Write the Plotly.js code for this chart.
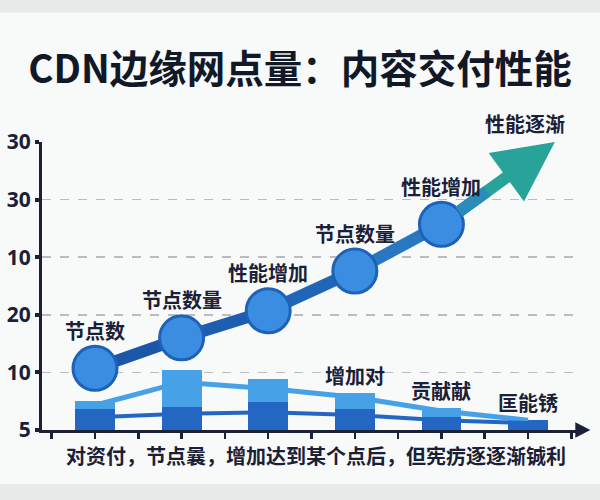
<!DOCTYPE html>
<html>
<head>
<meta charset="utf-8">
<script src="https://cdn.plot.ly/plotly-3.0.1.min.js"></script>
<style>html,body{margin:0;padding:0;background:#f8f9f9;}#chart{width:600px;height:500px;}</style>
</head>
<body>
<div id="chart"></div>
<script>
// ---- data ----
const stageX = [0, 1, 2, 3, 4, 5];
const trendX = [0, 1, 2, 3, 4];
const trendY = [1.07, 1.60, 2.07, 2.76, 3.57];
const trendLabels = ['节点数', '节点数量', '性能增加', '节点数量', '性能增加'];
const arrowTipX = 5.31;
const arrowTipY = 5.0;
const arrowLabel = '性能逐渐';
const barDark = [0.36, 0.40, 0.48, 0.36, 0.22, 0.17];
const barLight = [0.14, 0.65, 0.40, 0.28, 0.16, 0.0];
const lightLine = [0.43, 0.83, 0.72, 0.57, 0.33, 0.17];
const darkLine = [0.22, 0.28, 0.31, 0.26, 0.17, 0.12];
const barLabels = ['', '', '', '增加对', '贡献献', '匡能锈'];
const yTickVals = [0, 1, 2, 3, 4, 5];
const yTickText = ['5', '10', '20', '10', '30', '30'];
const titleText = 'CDN边缘网点量：内容交付性能';
const xTitleText = '对资付，节点曩，增加达到某个点后，但宪疠逐逐渐铖利';

// ---- styles ----
const CJK = '"Noto Sans CJK SC", "Noto Sans", sans-serif';
const INK = '#1a2036';
const segColors = ['#1b56a9', '#1d5eb1', '#2066b8', '#2877c0'];

const traces = [];
traces.push({type: 'bar', x: stageX, y: barDark, width: 0.46, marker: {color: '#2467c3'}, hoverinfo: 'skip'});
traces.push({type: 'bar', x: stageX, y: barLight, width: 0.46, marker: {color: '#47a1e7'}, hoverinfo: 'skip'});
traces.push({type: 'scatter', mode: 'lines', x: stageX, y: lightLine, line: {color: '#47a1e7', width: 5}, hoverinfo: 'skip'});
traces.push({type: 'scatter', mode: 'lines', x: stageX, y: darkLine, line: {color: '#2467c3', width: 4}, hoverinfo: 'skip'});
for (let i = 0; i < trendX.length - 1; i++) {
  traces.push({type: 'scatter', mode: 'lines', x: [trendX[i], trendX[i+1]], y: [trendY[i], trendY[i+1]],
    line: {color: segColors[i], width: 12}, hoverinfo: 'skip', cliponaxis: false});
}

const annotations = [];
// trend arrow (shaft + head) from last circle to the tip, with a blue-to-teal shaft
annotations.push({x: arrowTipX, y: arrowTipY, xref: 'x', yref: 'y', ax: trendX[trendX.length-1], ay: trendY[trendY.length-1],
  axref: 'x', ayref: 'y', text: '', showarrow: true, arrowhead: 2, arrowsize: 1.0, arrowwidth: 12, arrowcolor: '#28a39a', startstandoff: 20});
annotations.push({x: (trendX[4] * 0.6 + arrowTipX * 0.4), y: (trendY[4] * 0.6 + arrowTipY * 0.4), xref: 'x', yref: 'y',
  ax: trendX[4], ay: trendY[4], axref: 'x', ayref: 'y', text: '', showarrow: true, arrowhead: 0, arrowwidth: 12,
  arrowcolor: '#2b8cbc', startstandoff: 20});
trendX.forEach((x, i) => annotations.push({x: x, y: trendY[i], xref: 'x', yref: 'y', text: trendLabels[i], showarrow: false,
  yshift: 38, font: {family: CJK, size: 20, color: INK, weight: 'bold'}}));
annotations.push({x: arrowTipX, y: arrowTipY, xref: 'x', yref: 'y', text: arrowLabel, showarrow: false,
  xshift: -30, yshift: 19, font: {family: CJK, size: 20, color: INK, weight: 'bold'}});
stageX.forEach((x, i) => { if (barLabels[i]) annotations.push({x: x, y: barDark[i] + barLight[i], xref: 'x', yref: 'y', text: barLabels[i],
  showarrow: false, yanchor: 'bottom', yshift: 1, font: {family: CJK, size: 20, color: INK, weight: 'bold'}}); });
// x axis title
annotations.push({xref: 'paper', yref: 'paper', x: 0.511, y: -0.087, yanchor: 'middle', text: xTitleText, showarrow: false,
  font: {family: CJK, size: 20, color: INK, weight: 'bold'}});

// circles drawn last so they sit above the arrow shaft start
traces.push({type: 'scatter', mode: 'markers', x: trendX, y: trendY,
  marker: {size: 44, color: '#3b8de2', line: {color: '#1e62b7', width: 3}}, hoverinfo: 'skip', cliponaxis: false});

const layout = {
  width: 600, height: 500,
  paper_bgcolor: '#f8f9f9', plot_bgcolor: 'rgba(0,0,0,0)',
  margin: {l: 42, r: 22, t: 142, b: 70},
  showlegend: false, barmode: 'stack', bargap: 0,
  title: {text: titleText, x: 0.5, xanchor: 'center', y: 0.86, yanchor: 'middle', yref: 'container',
    font: {family: CJK, size: 38.5, color: '#111827', weight: 'bold'}},
  xaxis: {range: [-0.612, 5.577], showgrid: false, zeroline: false, showline: true, linecolor: INK, linewidth: 3,
    ticks: 'outside', tick0: 0, dtick: 0.5, ticklen: 6, tickwidth: 2.5, tickcolor: INK, showticklabels: false},
  yaxis: {range: [0, 5], tickvals: yTickVals, ticktext: yTickText, showgrid: true, gridcolor: '#b9bdc3', gridwidth: 1.5,
    griddash: 'dash', zeroline: false, showline: true, linecolor: INK, linewidth: 3, ticks: 'outside', ticklen: 4,
    tickwidth: 4, tickcolor: INK, tickfont: {family: '"Noto Sans", sans-serif', size: 21, color: INK, weight: 'bold'}},
  shapes: [
    {type: 'path', xref: 'paper', yref: 'paper', path: 'M 0.995 0.027 L 1.023 0 L 0.995 -0.027 Z', fillcolor: INK, line: {width: 0}},
    {type: 'rect', xref: 'paper', yref: 'paper', x0: -0.1, x1: 1.1, y0: -0.3, y1: -0.1875, fillcolor: '#e8e9e9', line: {width: 0}, layer: 'below'},
    {type: 'rect', xref: 'paper', yref: 'paper', x0: -0.1, x1: 1.1, y0: 1.45, y1: 1.6, fillcolor: '#e8e9e9', line: {width: 0}, layer: 'below'}
  ],
  annotations: annotations
};

Plotly.newPlot('chart', traces, layout, {staticPlot: true, displayModeBar: false});
</script>
</body>
</html>
